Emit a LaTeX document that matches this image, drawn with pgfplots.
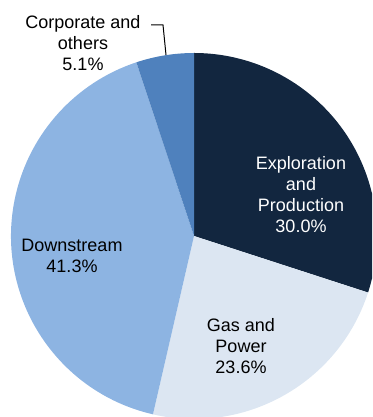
\documentclass[border=0pt]{standalone}
\usepackage{pgfplots}
\pgfplotsset{compat=1.18}
\usepackage{fontspec}
\setmainfont{Liberation Sans}
\definecolor{cEP}{HTML}{12263F}
\definecolor{cGP}{HTML}{DCE6F2}
\definecolor{cDS}{HTML}{8DB4E2}
\definecolor{cCO}{HTML}{4F81BD}
\tikzset{lbl/.style={font=\fontsize{18}{21}\selectfont, align=center, inner sep=0pt}}
% shares in percent, clockwise from 12 o'clock
\def\vEP{30.0}\def\vGP{23.6}\def\vDS{41.3}\def\vCO{5.1}
\pgfmathsetmacro\aA{90}
\pgfmathsetmacro\aB{\aA-3.6*\vEP}
\pgfmathsetmacro\aC{\aB-3.6*\vGP}
\pgfmathsetmacro\aD{\aC-3.6*\vDS}
\pgfmathsetmacro\aE{\aD-3.6*\vCO}
\newcommand{\slice}[3]{\fill[#3] (axis cs:194,181) -- ++(#1:183pt) arc[start angle=#1, end angle=#2, radius=183pt] -- cycle;}
\begin{document}
\begin{tikzpicture}
\begin{axis}[
width=372pt, height=417pt, scale only axis,
xmin=0, xmax=372, ymin=0, ymax=417,
hide axis, clip=true,
]
\slice{\aA}{\aB}{cEP}
\slice{\aB}{\aC}{cGP}
\slice{\aC}{\aD}{cDS}
\slice{\aD}{\aE}{cCO}
\node[lbl, text=white] at (axis cs:301,222) {Exploration\\and\\Production\\30.0\%};
\node[lbl] at (axis cs:241,71) {Gas and\\Power\\23.6\%};
\node[lbl] at (axis cs:72,161) {Downstream\\41.3\%};
\node[lbl] at (axis cs:83,374) {Corporate and\\others\\5.1\%};
\draw[black, line width=1pt] (axis cs:151,392) -- (axis cs:163,392) -- (axis cs:166,362);
\end{axis}
\pgfresetboundingbox
\path[use as bounding box] (current axis.south west) rectangle (current axis.north east);
\end{tikzpicture}
\end{document}
